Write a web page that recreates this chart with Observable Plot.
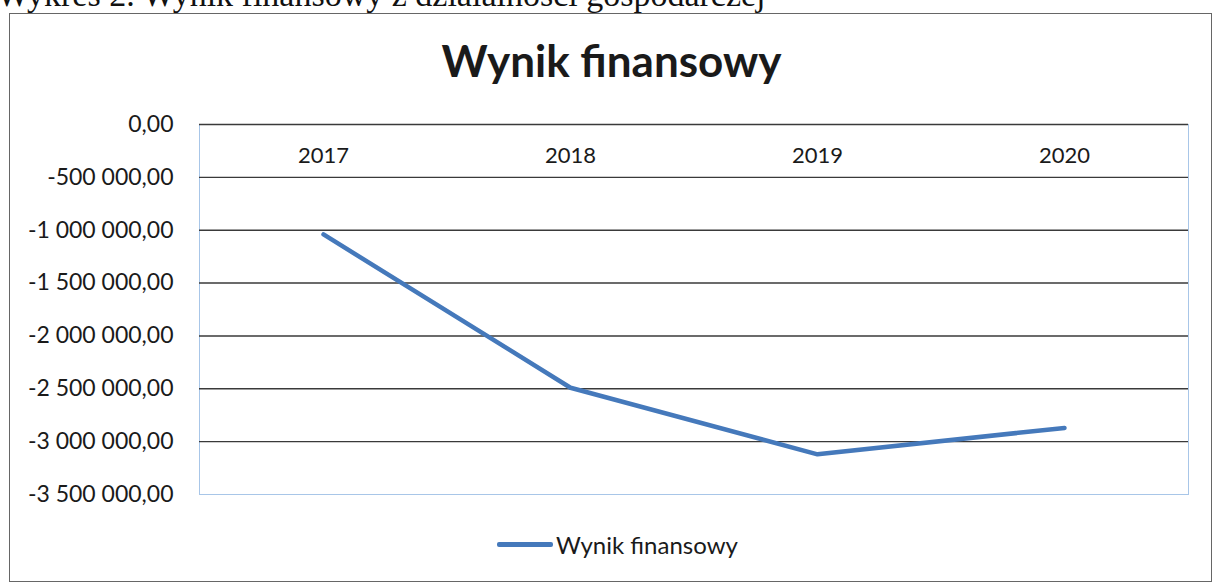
<!DOCTYPE html>
<html>
<head>
<meta charset="utf-8">
<script src="https://cdn.jsdelivr.net/npm/d3@7"></script>
<script src="https://cdn.jsdelivr.net/npm/@observablehq/plot@0.6"></script>
<style>
  html, body { margin: 0; padding: 0; background: #fff; }
  #page { position: relative; width: 1215px; height: 585px; overflow: hidden; background: #fff; }
  #caption { position: absolute; left: -3px; top: -24px; font-family: "Liberation Serif", serif; font-size: 34px; color: #111; white-space: nowrap; }
  #box { position: absolute; left: 9px; top: 13px; width: 1203px; height: 569px; border: 1px solid #666; box-sizing: border-box; }
  #title { position: absolute; left: 0; width: 1215px; top: 34px; text-align: center; font-family: Lato, sans-serif; font-weight: bold; font-size: 44px; color: #1a1a1a; padding-left: 8px; box-sizing: border-box; }
  #chart { position: absolute; left: 0; top: 0; }
  #legend { position: absolute; top: 530px; left: 497px; font-family: Lato, sans-serif; font-size: 24px; color: #1a1a1a; display: flex; align-items: center; }
  #legend .sw { display: inline-block; width: 56px; height: 5px; background: #4579bb; border-radius: 2px; margin-right: 3px; }
</style>
</head>
<body>
<div id="page">
  <div id="caption">Wykres 2. Wynik finansowy z działalności gospodarczej</div>
  <div id="box"></div>
  <div id="chart"></div>
  <div id="title">Wynik finansowy</div>
  <div id="legend"><span class="sw"></span><span id="legendLabel"></span></div>
</div>
<script>
// Data
const years = ["2017", "2018", "2019", "2020"];
const values = [-1040000, -2490000, -3120000, -2870000];
const yTicks = [0, -500000, -1000000, -1500000, -2000000, -2500000, -3000000, -3500000];
const gridTicks = [0, -500000, -1000000, -1500000, -2000000, -2500000, -3000000];
const seriesName = "Wynik finansowy";

const data = years.map((y, i) => ({year: y, value: values[i]}));
const pl = d3.formatLocale({decimal: ",", thousands: "\u00a0", grouping: [3], currency: ["", ""], minus: "-"});
const fmt = pl.format(",.2f");

const chart = Plot.plot({
  width: 1215,
  height: 585,
  marginLeft: 199,
  marginRight: 27,
  marginTop: 124,
  marginBottom: 91,
  style: {fontFamily: "Lato, sans-serif", color: "#1a1a1a", background: "transparent"},
  x: {type: "point", domain: years, padding: 0.5, axis: null, label: null},
  y: {domain: [-3500000, 0], axis: null, label: null},
  marks: [
    Plot.frame({stroke: "#a8c6e8", strokeWidth: 1}),
    Plot.gridY(gridTicks, {stroke: "#3a3a3a", strokeOpacity: 1, strokeWidth: 1.4}),
    Plot.axisY(yTicks, {tickSize: 0, tickPadding: 26, tickFormat: fmt, fontSize: 23, fill: "#1a1a1a", label: null}),
    Plot.axisX(years, {anchor: "top", tickSize: 0, tickPadding: 0, dy: 38, fontSize: 22, fill: "#1a1a1a", label: null}),
    Plot.line(data, {x: "year", y: "value", stroke: "#4579bb", strokeWidth: 4.5, strokeLinejoin: "round", strokeLinecap: "round"})
  ]
});
document.getElementById("chart").appendChild(chart);
document.getElementById("legendLabel").textContent = seriesName;
</script>
</body>
</html>
